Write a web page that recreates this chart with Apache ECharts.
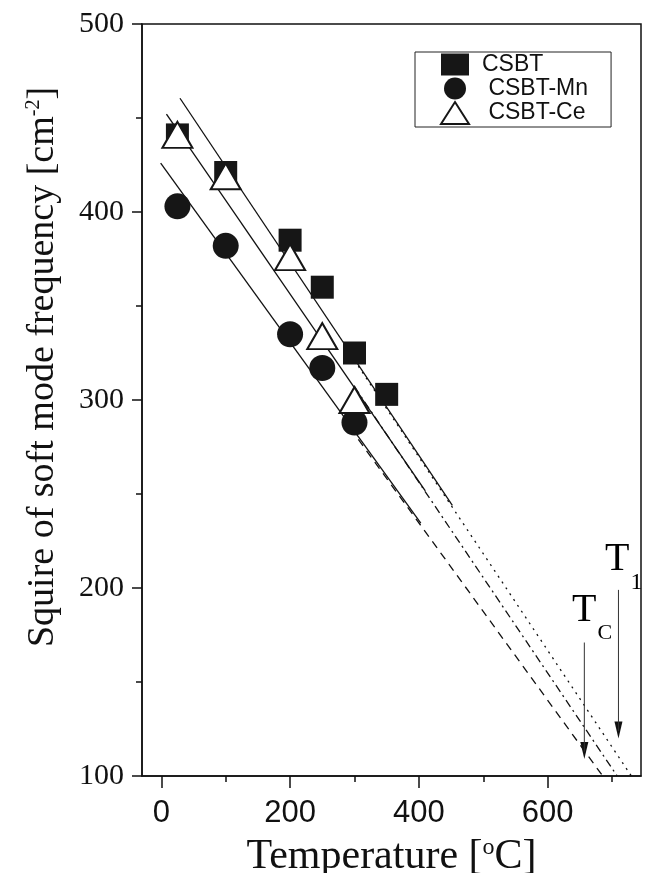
<!DOCTYPE html>
<html>
<head>
<meta charset="utf-8">
<script src="https://cdn.jsdelivr.net/npm/echarts@6/dist/echarts.min.js"></script>
<style>
  html, body { margin: 0; padding: 0; background: #fff; }
  #chart { width: 647px; height: 873px; }
</style>
</head>
<body>
<div id="chart"></div>
<script>
// measured points
const temps = [25, 100, 200, 250, 300, 350]
const csbt = [441, 421, 385, 360, 325, 303]
const tempsMn = [25, 100, 200, 250, 300]
const csbtMn = [403, 382, 335, 317, 288]
const tempsCe = [25, 100, 200, 250, 300]
const csbtCe = [441, 419, 376, 334, 300]

// linear fits (solid) and extrapolations to Tc / T1
const fitCsbt = [[29, 460.5], [452, 244]]
const fitMn = [[-1, 426], [403, 234.5]]
const fitCe = [[8, 452], [410, 251.6]]
const extCsbt = [[306, 318], [730, 100]]
const extMn = [[306, 279], [685.5, 100]]
const extCe = [[300, 307], [708, 100]]

// arrows: [x, yStart, yTip]
const arrowTc = [657, 171, 109]
const arrowT1 = [710, 199, 120]

// annotation labels: [x, y, text, size]
const annotations = [
  [657, 188, 'T', 40],
  [689, 176, 'C', 22],
  [708, 215, 'T', 40],
  [738, 203, '1', 24]
]

const xMajor = [0, 200, 400, 600]
const xMinor = [100, 300, 500, 700]

const pairs = (xs, ys) => xs.map((x, i) => [x, ys[i]])

const chart = echarts.init(document.getElementById('chart'))

function fitLine(data, type) {
  return {
    type: 'line',
    data: data,
    showSymbol: false,
    silent: true,
    lineStyle: { color: '#111', width: 1.3, type: type },
    z: 1
  }
}

function arrowShaft(a) {
  return {
    type: 'line',
    data: [[a[0], a[1]], [a[0], a[2] + 4]],
    showSymbol: false,
    silent: true,
    lineStyle: { color: '#333', width: 1 }
  }
}

function arrowHead(a) {
  return {
    type: 'scatter',
    data: [[a[0], a[2]]],
    symbol: 'path://M0,0 L8,0 L4,17 Z',
    symbolSize: [8, 17],
    symbolOffset: [0, '-50%'],
    itemStyle: { color: '#111', opacity: 1 },
    silent: true
  }
}

const serif = '"Liberation Serif", "Times New Roman", serif'
const sans = '"Liberation Sans", Arial, sans-serif'

chart.setOption({
  animation: false,
  grid: {
    left: 142, top: 24, right: 6, bottom: 97,
    outerBoundsMode: 'none',
    show: true, borderColor: '#111', borderWidth: 1.5
  },
  legend: {
    data: ['CSBT', 'CSBT-Mn', 'CSBT-Ce'],
    orient: 'vertical',
    left: 415, top: 52,
    padding: [1, 23, 2, 25],
    itemGap: 1,
    itemWidth: 28, itemHeight: 22,
    borderColor: '#222', borderWidth: 1,
    formatter: name => (name === 'CSBT' ? name : ' ' + name),
    textStyle: { fontFamily: sans, fontSize: 23, color: '#111', padding: [0, 0, 0, 8] }
  },
  xAxis: [
    {
      type: 'value', min: -30, max: 745,
      name: '{a|Temperature [}{s|o}{a|C]}',
      nameLocation: 'middle', nameGap: 60,
      nameTextStyle: {
        rich: {
          a: { fontFamily: serif, fontSize: 42, color: '#111' },
          s: { fontFamily: serif, fontSize: 24, color: '#111', verticalAlign: 'top', padding: [0, 0, 14, 0] }
        }
      },
      splitLine: { show: false },
      axisLine: { onZero: false, lineStyle: { color: '#111', width: 1.5 } },
      axisTick: { customValues: xMajor, length: 12, lineStyle: { color: '#111', width: 1.5 } },
      axisLabel: { customValues: xMajor, margin: 22, fontFamily: sans, fontSize: 31, color: '#111' }
    },
    {
      type: 'value', min: -30, max: 745, position: 'bottom',
      splitLine: { show: false },
      axisLine: { show: false, onZero: false },
      axisTick: { customValues: xMinor, length: 6, lineStyle: { color: '#111', width: 1.5 } },
      axisLabel: { show: false }
    }
  ],
  yAxis: {
    type: 'value', min: 100, max: 500, interval: 100,
    splitLine: { show: false },
    axisLine: { onZero: false, lineStyle: { color: '#111', width: 1.5 } },
    axisTick: { length: 10, lineStyle: { color: '#111', width: 1.5 } },
    minorTick: { show: true, splitNumber: 2, length: 6, lineStyle: { color: '#111', width: 1.5 } },
    axisLabel: { margin: 18, fontFamily: serif, fontSize: 30, color: '#111' }
  },
  graphic: [{
    type: 'text',
    x: 43, y: 367,
    rotation: Math.PI / 2,
    style: {
      text: '{a|Squire of soft mode frequency [cm}{s|-2}{a|]}',
      align: 'center', verticalAlign: 'middle',
      rich: {
        a: { fontFamily: serif, fontSize: 38, fill: '#111' },
        s: { fontFamily: serif, fontSize: 20, fill: '#111', verticalAlign: 'top', padding: [0, 0, 16, 0] }
      }
    }
  }],
  series: [
    fitLine(fitCsbt, 'solid'),
    fitLine(fitMn, 'solid'),
    fitLine(fitCe, 'solid'),
    fitLine(extCsbt, [2, 5]),
    fitLine(extCe, [8, 4, 2, 4]),
    fitLine(extMn, [8, 6]),
    arrowShaft(arrowTc),
    arrowShaft(arrowT1),
    arrowHead(arrowTc),
    arrowHead(arrowT1),
    {
      name: 'CSBT', type: 'scatter', symbol: 'rect', symbolSize: 23,
      data: pairs(temps, csbt),
      itemStyle: { color: '#161616', opacity: 1 }, z: 3
    },
    {
      name: 'CSBT-Mn', type: 'scatter', symbol: 'circle', symbolSize: 26,
      data: pairs(tempsMn, csbtMn),
      itemStyle: { color: '#161616', opacity: 1 }, z: 3
    },
    {
      name: 'CSBT-Ce', type: 'scatter', symbol: 'triangle', symbolSize: [30, 26],
      data: pairs(tempsCe, csbtCe),
      itemStyle: { color: '#fff', borderColor: '#161616', borderWidth: 2, opacity: 1 }, z: 4
    },
    {
      type: 'scatter', silent: true, symbolSize: 0, z: 5,
      itemStyle: { color: '#000', opacity: 1 },
      data: annotations.map(a => ({
        value: [a[0], a[1]],
        label: {
          show: true, position: [0, 0], align: 'center', verticalAlign: 'middle',
          formatter: a[2],
          fontFamily: serif, fontSize: a[3], color: '#000', textBorderWidth: 0
        }
      }))
    }
  ]
})

window.addEventListener('resize', () => chart.resize())
</script>
</body>
</html>
